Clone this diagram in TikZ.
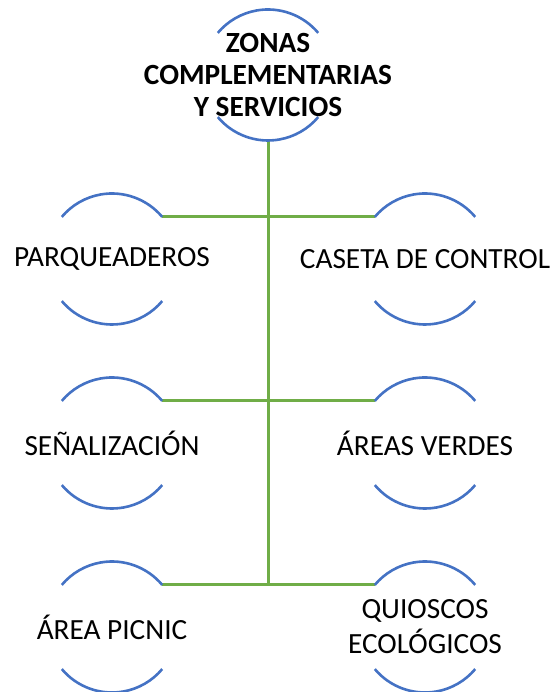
\documentclass[tikz,border=0pt]{standalone}
\usepackage{fontspec}
\setmainfont{Carlito}
\definecolor{ringblue}{HTML}{4472C4}
\definecolor{linkgreen}{HTML}{70AD47}
\tikzset{
  ring/.style={circle,minimum size=131pt,inner sep=0pt,outer sep=0pt},
  label txt/.style={align=center,font=\fontsize{29.3}{35}\selectfont},
  head txt/.style={align=center,font=\fontsize{29.3}{32}\selectfont\bfseries},
  arcline/.style={ringblue,line width=2.6pt},
  link/.style={linkgreen,line width=3pt}
}
\begin{document}
\begin{tikzpicture}[x=1pt,y=1pt]
 \useasboundingbox (0,0) rectangle (551,692);
 % circles
 \node[ring] (top) at (268,617) {};
 \node[ring] (parq) at (112,433) {};
 \node[ring] (caseta) at (425,433) {};
 \node[ring] (senal) at (112,249) {};
 \node[ring] (verdes) at (425,249) {};
 \node[ring] (picnic) at (112,65) {};
 \node[ring] (quiosc) at (425,65) {};
 % connectors
 \draw[link] (top.south) -- (top.south |- picnic.40);
 \draw[link] (parq.40) -- (caseta.140);
 \draw[link] (senal.40) -- (verdes.140);
 \draw[link] (picnic.40) -- (quiosc.140);
 % open rings
 \foreach \n in {top,parq,caseta,senal,verdes,picnic,quiosc} {
   \draw[arcline] (\n.40) arc[start angle=40,end angle=140,radius=65.5pt];
   \draw[arcline] (\n.220) arc[start angle=220,end angle=320,radius=65.5pt];
 }
 % texts
 \node[head txt] (top-t) at (top) {ZONAS\\COMPLEMENTARIAS\\Y SERVICIOS};
 \node[label txt] (parq-t) at (parq) {PARQUEADEROS};
 \node[label txt] (caseta-t) at (caseta) {CASETA DE CONTROL};
 \node[label txt] (senal-t) at (senal) {SEÑALIZACIÓN};
 \node[label txt] (verdes-t) at (verdes) {ÁREAS VERDES};
 \node[label txt] (picnic-t) at (picnic) {ÁREA PICNIC};
 \node[label txt] (quiosc-t) at (quiosc) {QUIOSCOS\\ECOLÓGICOS};
\end{tikzpicture}
\end{document}
